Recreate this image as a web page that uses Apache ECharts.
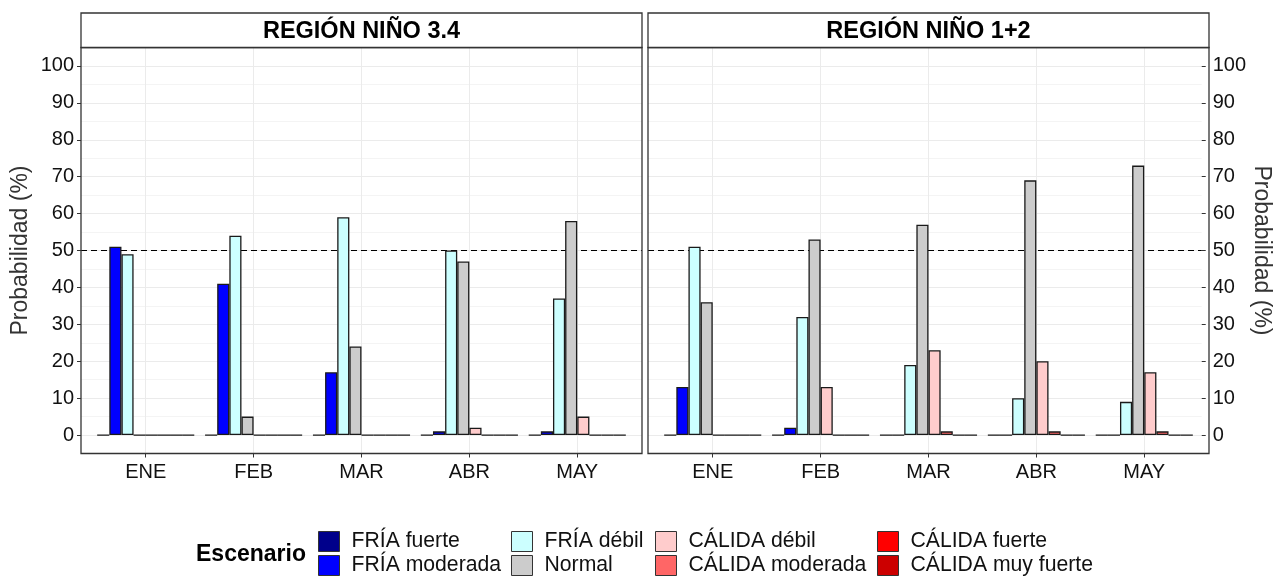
<!DOCTYPE html>
<html>
<head>
<meta charset="utf-8">
<script src="https://cdn.jsdelivr.net/npm/echarts@6/dist/echarts.min.js"></script>
<style>
html,body{margin:0;padding:0;background:#fff;}
#chart{width:1274px;height:576px;}
</style>
</head>
<body>
<div id="chart"></div>
<script>
// ---------- DATA ----------
const categories = ['ENE', 'FEB', 'MAR', 'ABR', 'MAY'];
const scenarios = ['FRÍA fuerte', 'FRÍA moderada', 'FRÍA débil', 'Normal',
                   'CÁLIDA débil', 'CÁLIDA moderada', 'CÁLIDA fuerte', 'CÁLIDA muy fuerte'];
const scenarioColors = ['#00008B', '#0000FF', '#CCFFFF', '#CCCCCC',
                        '#FFCCCC', '#FF6666', '#FF0000', '#CC0000'];
const panelTitles = ['REGIÓN NIÑO 3.4', 'REGIÓN NIÑO 1+2'];
const yTicks = [0, 10, 20, 30, 40, 50, 60, 70, 80, 90, 100];
const threshold = 50;

// Región Niño 3.4 (one array per scenario, values per month)
const n34_friaFuerte      = [0, 0, 0, 0, 0];
const n34_friaModerada    = [51, 41, 17, 1, 1];
const n34_friaDebil       = [49, 54, 59, 50, 37];
const n34_normal          = [0, 5, 24, 47, 58];
const n34_calidaDebil     = [0, 0, 0, 2, 5];
const n34_calidaModerada  = [0, 0, 0, 0, 0];
const n34_calidaFuerte    = [0, 0, 0, 0, 0];
const n34_calidaMuyFuerte = [0, 0, 0, 0, 0];

// Región Niño 1+2
const n12_friaFuerte      = [0, 0, 0, 0, 0];
const n12_friaModerada    = [13, 2, 0, 0, 0];
const n12_friaDebil       = [51, 32, 19, 10, 9];
const n12_normal          = [36, 53, 57, 69, 73];
const n12_calidaDebil     = [0, 13, 23, 20, 17];
const n12_calidaModerada  = [0, 0, 1, 1, 1];
const n12_calidaFuerte    = [0, 0, 0, 0, 0];
const n12_calidaMuyFuerte = [0, 0, 0, 0, 0];

const panelData = [
  [n34_friaFuerte, n34_friaModerada, n34_friaDebil, n34_normal,
   n34_calidaDebil, n34_calidaModerada, n34_calidaFuerte, n34_calidaMuyFuerte],
  [n12_friaFuerte, n12_friaModerada, n12_friaDebil, n12_normal,
   n12_calidaDebil, n12_calidaModerada, n12_calidaFuerte, n12_calidaMuyFuerte]
];

// ---------- LAYOUT ----------
const W = 1274, H = 576;
const FONT = '"Liberation Sans", Arial, sans-serif';
const panels = [{x0: 81, x1: 642}, {x0: 648, x1: 1209}];
const panelTop = 47.5, panelBottom = 453.5, stripTop = 13;
const yMin = -5, yMax = 105;
const pxPerUnit = (panelBottom - panelTop) / (yMax - yMin);
const zeroY = panelBottom - (0 - yMin) * pxPerUnit;
const hundredY = panelBottom - (100 - yMin) * pxPerUnit;

const grids = [], xAxes = [], yAxes = [], series = [], graphics = [];

panels.forEach((p, pi) => {
  const width = p.x1 - p.x0;
  const band = width / (categories.length - 1 + 2 * 0.6);
  const inL = p.x0 + 0.6 * band, inR = p.x1 - 0.6 * band;
  const gH = grids.length;
  grids.push({left: p.x0, right: W - p.x1, top: hundredY, bottom: H - zeroY, containLabel: false});
  const gB = grids.length;
  grids.push({left: inL, right: W - inR, top: panelTop, bottom: H - panelBottom, containLabel: false});

  xAxes.push({gridIndex: gH, type: 'value', min: 0, max: 1, show: false});
  xAxes.push({
    gridIndex: gB, type: 'category', data: categories, boundaryGap: false,
    axisLine: {show: false, onZero: false},
    axisTick: {show: true, length: 4, lineStyle: {color: '#333', width: 1}},
    axisLabel: {fontSize: 20, color: '#111', margin: 9, fontFamily: FONT},
    splitLine: {show: true, lineStyle: {color: '#EBEBEB', width: 1}}
  });

  const right = pi === 1;
  yAxes.push({
    gridIndex: gH, type: 'value', min: yTicks[0], max: yTicks[yTicks.length - 1],
    interval: yTicks[1] - yTicks[0], position: right ? 'right' : 'left',
    axisLine: {show: false, onZero: false},
    axisTick: {show: true, inside: false, length: 4, lineStyle: {color: '#333', width: 1}},
    axisLabel: {fontSize: 20, color: '#111', margin: right ? 11 : 7, fontFamily: FONT},
    splitLine: {show: true, lineStyle: {color: '#EBEBEB', width: 1}},
    minorTick: {show: false, splitNumber: 2},
    minorSplitLine: {show: true, lineStyle: {color: '#EFEFEF', width: 0.7}},
    name: 'Probabilidad (%)', nameLocation: 'middle', nameGap: right ? 40 : 49,
    nameRotate: right ? -90 : 90,
    nameTextStyle: {fontSize: 23, color: '#333', fontFamily: FONT}
  });
  yAxes.push({gridIndex: gB, type: 'value', min: yMin, max: yMax, show: false});

  // threshold dashed line
  series.push({
    type: 'line', xAxisIndex: gH, yAxisIndex: gH, data: [[0, threshold], [1, threshold]],
    symbol: 'none', silent: true, z: 1,
    lineStyle: {color: '#000', width: 1.2, type: [6, 4]}
  });

  scenarios.forEach((name, si) => {
    series.push({
      type: 'bar', name: name, xAxisIndex: gB, yAxisIndex: gB,
      data: panelData[pi][si], barWidth: '11.25%', barGap: '0%', clip: false, z: 3,
      itemStyle: {color: scenarioColors[si], borderColor: '#1a1a1a', borderWidth: 1.3},
      emphasis: {disabled: true}
    });
  });

  // panel border + strip
  graphics.push({type: 'rect', z: 50, silent: true,
    shape: {x: p.x0, y: panelTop, width: width, height: panelBottom - panelTop},
    style: {fill: null, stroke: '#333', lineWidth: 1.3}});
  graphics.push({type: 'rect', z: 50, silent: true,
    shape: {x: p.x0, y: stripTop, width: width, height: panelTop - stripTop},
    style: {fill: '#fff', stroke: '#333', lineWidth: 1.3}});
  graphics.push({type: 'text', z: 51, silent: true,
    x: (p.x0 + p.x1) / 2, y: (stripTop + panelTop) / 2 + 1,
    style: {text: panelTitles[pi], fill: '#000', font: 'bold 23.5px ' + FONT,
            textAlign: 'center', textVerticalAlign: 'middle'}});
});

// legend title
graphics.push({type: 'text', z: 51, silent: true, x: 196, y: 555,
  style: {text: 'Escenario', fill: '#000', font: 'bold 23px ' + FONT,
          textAlign: 'left', textVerticalAlign: 'middle'}});

const legendCols = [318, 511, 655, 877];
const legends = legendCols.map((lx, ci) => ({
  data: [scenarios[ci * 2], scenarios[ci * 2 + 1]],
  orient: 'vertical', left: lx, bottom: 0, padding: 0,
  itemWidth: 21, itemHeight: 20, itemGap: 3, icon: 'rect',
  selectedMode: false,
  itemStyle: {borderColor: '#333', borderWidth: 1},
  textStyle: {fontSize: 21.2, lineHeight: 20, color: '#111', fontFamily: FONT, padding: [0, 0, 0, 7]}
}));

const chart = echarts.init(document.getElementById('chart'), null, {renderer: 'canvas'});
chart.setOption({
  backgroundColor: '#fff',
  animation: false,
  textStyle: {fontFamily: FONT},
  grid: grids, xAxis: xAxes, yAxis: yAxes, series: series,
  legend: legends, graphic: graphics
});
</script>
</body>
</html>
